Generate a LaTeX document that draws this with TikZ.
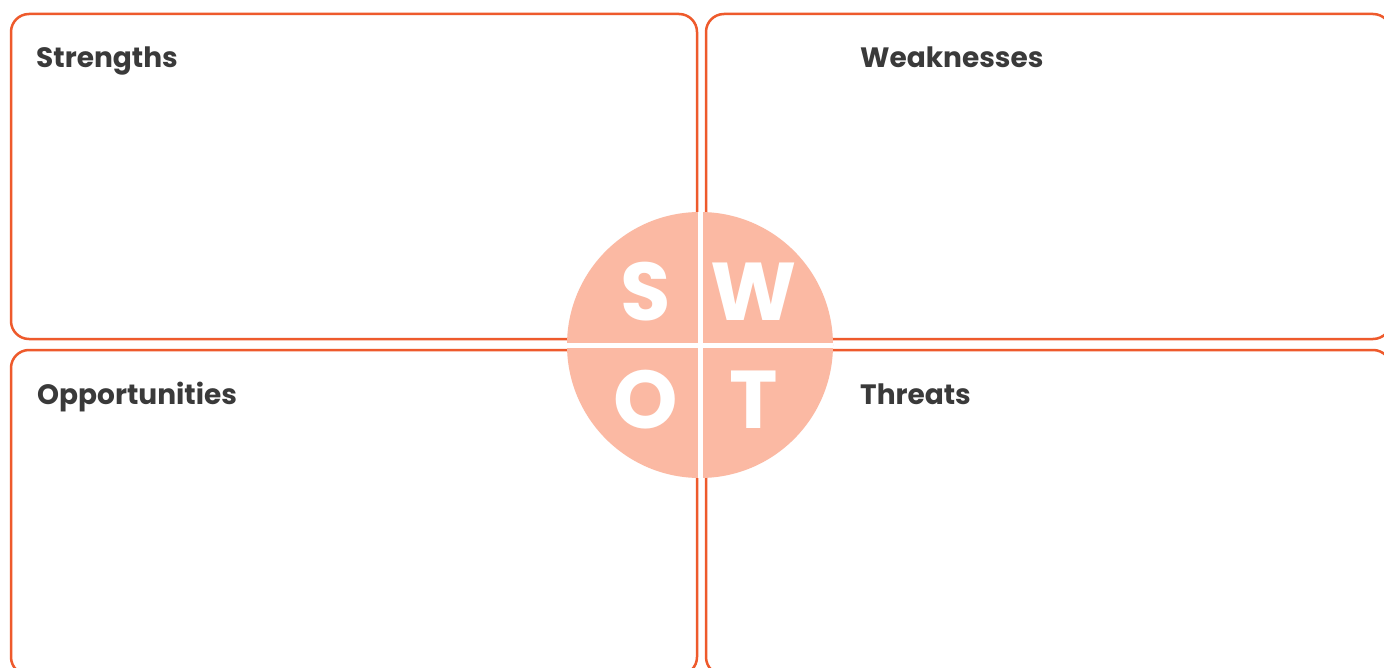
\documentclass[tikz,border=0pt]{standalone}
\usepackage{fontspec}
\newfontfamily\pop{Poppins}
\definecolor{edge}{HTML}{EE5A2C}
\definecolor{swotfill}{HTML}{FBB9A3}
\definecolor{ink}{HTML}{3A3A3A}
\tikzset{
  box/.style={draw=edge, line width=2.5pt, rounded corners=18pt, inner sep=0pt, outer sep=0pt},
  label/.style={anchor=base west, inner sep=0pt, text=ink, font=\pop\bfseries\fontsize{28}{30}\selectfont},
  letter/.style={anchor=base, inner sep=0pt, text=white, font=\pop\bfseries\fontsize{82}{84}\selectfont},
  cross/.style={draw=white, line width=5pt}
}
\begin{document}
\begin{tikzpicture}[x=1pt, y=-1pt]
\useasboundingbox (0,0) rectangle (1384,668);
\clip (0,0) rectangle (1384,668);
\fill[white] (0,0) rectangle (1384,668);
\node[box, minimum width=686pt, minimum height=325pt] (bs) at (354,176.5) {};
\node[box, minimum width=685pt, minimum height=325pt] (bw) at (1048.5,176.5) {};
\node[box, minimum width=686pt, minimum height=325pt] (bo) at (354,512.5) {};
\node[box, minimum width=685pt, minimum height=325pt] (bt) at (1048.5,512.5) {};
\node[label] (ls) at (36,68) {Strengths};
\node[label] (lw) at (860,68) {Weaknesses};
\node[label] (lo) at (37,404) {Opportunities};
\node[label] (lt) at (860,404) {Threats};
\node[circle, fill=swotfill, minimum size=266pt, inner sep=0pt] (c) at (700,345) {};
\draw[cross] (c.north) -- (c.south);
\draw[cross] (c.west) -- (c.east);
\node[letter] (s) at (646,320) {S};
\node[letter] (w) at (754,320) {W};
\node[letter] (o) at (646,428) {O};
\node[letter] (t) at (754,428) {T};
\end{tikzpicture}
\end{document}
